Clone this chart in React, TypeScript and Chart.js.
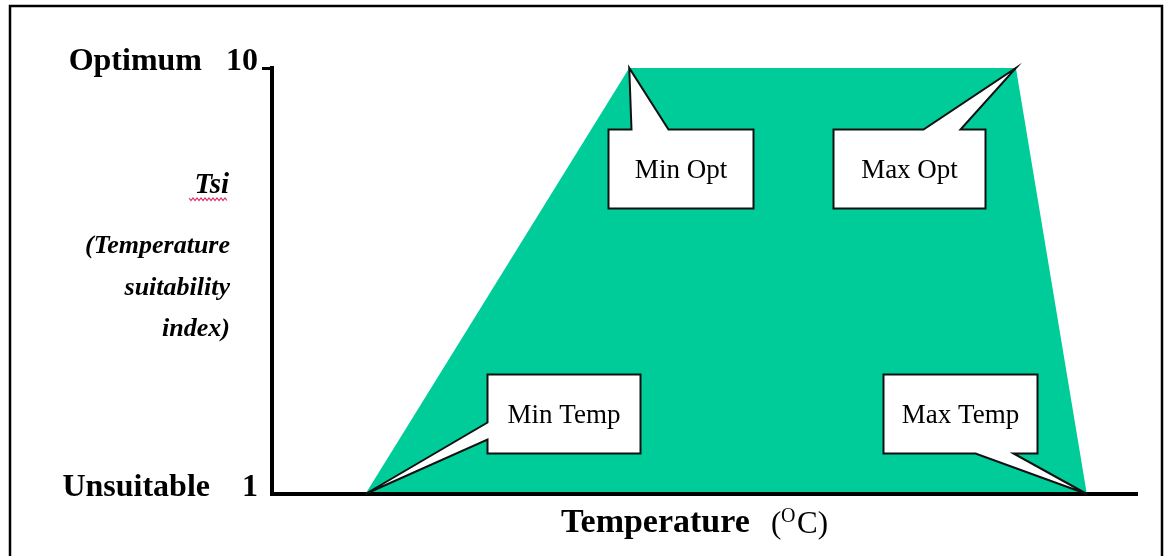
import React, { useEffect, useRef } from "react";
import { Chart, registerables } from "chart.js";

Chart.register(...registerables);

// ---- Data ----
const pointNames = ["Min Temp", "Min Opt", "Max Opt", "Max Temp"];
const temperatures = [10.8, 41.3, 86.0, 94.2]; // position on the temperature axis (0-100 scale)
const suitability = [1, 10, 10, 1];
const yTickValues = [1, 10];
const yTickLabels = ["Unsuitable    1", "Optimum   10"];
const yTitleMain = "Tsi";
const yTitleLines = ["(Temperature", "suitability", "index)"];
const xTitle = "Temperature";
const xUnitOpen = "(";
const xUnitSup = "O";
const xUnitClose = "C)";

// ---- Layout / style (pixels) ----
const W = 1165;
const H = 556;
const GREEN = "#00CC99";
const SERIF = '"Liberation Serif", "Times New Roman", serif';

type Side = "top" | "left" | "bottom";
const calloutLayout: Record<string, { dx: number; dy: number; w: number; h: number; side: Side; b1: number; b2: number }> = {
  "Min Temp": { dx: 122, dy: -120, w: 153, h: 79, side: "left", b1: 48, b2: 65 },
  "Min Opt": { dx: -21, dy: 61, w: 145, h: 79, side: "top", b1: 23, b2: 60 },
  "Max Opt": { dx: -183, dy: 61, w: 152, h: 79, side: "top", b1: 90, b2: 127 },
  "Max Temp": { dx: -204, dy: -120, w: 154, h: 79, side: "bottom", b1: 92, b2: 130 },
};

const decorPlugin = {
  id: "decor",
  afterDraw(chart: any) {
    const ctx: CanvasRenderingContext2D = chart.ctx;
    const xs = chart.scales.x;
    const ys = chart.scales.y;
    ctx.save();

    // outer frame
    ctx.strokeStyle = "#000";
    ctx.lineWidth = 2.5;
    ctx.strokeRect(10, 6, 1152, 700);

    // callouts
    pointNames.forEach((name, i) => {
      const L = calloutLayout[name];
      const tx = xs.getPixelForValue(temperatures[i]);
      const ty = ys.getPixelForValue(suitability[i]);
      const left = Math.round(tx + L.dx) + 0.5;
      const top = Math.round(ty + L.dy) + 0.5;
      const right = left + L.w;
      const bottom = top + L.h;
      ctx.beginPath();
      if (L.side === "top") {
        ctx.moveTo(left, top);
        ctx.lineTo(left + L.b1, top);
        ctx.lineTo(tx, ty);
        ctx.lineTo(left + L.b2, top);
        ctx.lineTo(right, top);
        ctx.lineTo(right, bottom);
        ctx.lineTo(left, bottom);
        ctx.closePath();
      } else if (L.side === "left") {
        ctx.moveTo(left, top);
        ctx.lineTo(right, top);
        ctx.lineTo(right, bottom);
        ctx.lineTo(left, bottom);
        ctx.lineTo(left, top + L.b2);
        ctx.lineTo(tx, ty);
        ctx.lineTo(left, top + L.b1);
        ctx.closePath();
      } else {
        ctx.moveTo(left, top);
        ctx.lineTo(right, top);
        ctx.lineTo(right, bottom);
        ctx.lineTo(left + L.b2, bottom);
        ctx.lineTo(tx, ty);
        ctx.lineTo(left + L.b1, bottom);
        ctx.lineTo(left, bottom);
        ctx.closePath();
      }
      ctx.fillStyle = "#fff";
      ctx.fill();
      ctx.lineWidth = 2;
      ctx.lineJoin = "miter";
      ctx.strokeStyle = "#111";
      ctx.stroke();
      ctx.fillStyle = "#000";
      ctx.font = `27px ${SERIF}`;
      ctx.textAlign = "center";
      ctx.textBaseline = "middle";
      ctx.fillText(name, (left + right) / 2, (top + bottom) / 2 + 2);
    });

    // y-axis title block
    ctx.fillStyle = "#000";
    ctx.textAlign = "right";
    ctx.textBaseline = "alphabetic";
    ctx.font = `italic bold 29px ${SERIF}`;
    ctx.fillText(yTitleMain, 229, 193);
    // spell-check style wavy underline
    ctx.beginPath();
    ctx.strokeStyle = "#e0306a";
    ctx.lineWidth = 1.2;
    for (let x = 189, k = 0; x <= 227; x += 2, k++) {
      const y = k % 2 === 0 ? 198 : 200.5;
      if (k === 0) ctx.moveTo(x, y);
      else ctx.lineTo(x, y);
    }
    ctx.stroke();

    ctx.font = `italic bold 26px ${SERIF}`;
    const baselines = [253, 295, 336];
    yTitleLines.forEach((t, i) => ctx.fillText(t, 230, baselines[i]));

    // x-axis title
    ctx.textAlign = "left";
    ctx.font = `bold 33px ${SERIF}`;
    ctx.save();
    ctx.translate(561, 532);
    ctx.scale(1.03, 1);
    ctx.fillText(xTitle, 0, 0);
    ctx.restore();
    ctx.font = `31px ${SERIF}`;
    ctx.fillText(xUnitOpen, 771, 533);
    ctx.font = `20px ${SERIF}`;
    ctx.fillText(xUnitSup, 781, 522);
    ctx.font = `31px ${SERIF}`;
    ctx.fillText(xUnitClose, 797, 533);

    ctx.restore();
  },
};

export default function App() {
  const ref = useRef<HTMLCanvasElement | null>(null);

  useEffect(() => {
    if (!ref.current) return;
    const chart = new Chart(ref.current, {
      type: "line",
      data: {
        datasets: [
          {
            data: temperatures.map((t, i) => ({ x: t, y: suitability[i] })),
            fill: "start",
            backgroundColor: GREEN,
            borderWidth: 0,
            borderColor: "rgba(0,0,0,0)",
            pointRadius: 0,
            tension: 0,
          },
        ],
      },
      options: {
        animation: false,
        responsive: false,
        devicePixelRatio: 1,
        layout: { padding: { top: 68, right: 28, bottom: 0, left: 0 } },
        plugins: {
          legend: { display: false },
          tooltip: { enabled: false },
          title: { display: false },
        },
        scales: {
          x: {
            type: "linear",
            min: 0,
            max: 100,
            ticks: { display: false },
            grid: { display: false, drawTicks: false },
            border: { display: true, color: "#000", width: 4, z: 1 },
            afterFit: (s: any) => {
              s.height = 62;
            },
          },
          y: {
            type: "linear",
            min: 1,
            max: 10,
            afterBuildTicks: (s: any) => {
              s.ticks = yTickValues.map((v) => ({ value: v }));
            },
            ticks: {
              callback: (_v: any, i: number) => yTickLabels[i],
              color: "#000",
              font: { family: SERIF, size: 32, weight: "bold" },
              padding: 4,
              labelOffset: -6,
              autoSkip: false,
            },
            grid: {
              display: true,
              drawOnChartArea: false,
              drawTicks: true,
              tickLength: 10,
              lineWidth: 3,
              color: (c: any) => (c.tick && c.tick.value === 10 ? "#000" : "rgba(0,0,0,0)"),
            },
            border: { display: true, color: "#000", width: 4, z: 1 },
            afterFit: (s: any) => {
              s.width = 272;
            },
          },
        },
      },
      plugins: [decorPlugin],
    } as any);
    return () => chart.destroy();
  }, []);

  return (
    <div style={{ position: "fixed", left: 0, top: 0, width: W, height: H, background: "#fff" }}>
      <canvas ref={ref} width={W} height={H} style={{ display: "block", width: W, height: H }} />
    </div>
  );
}
